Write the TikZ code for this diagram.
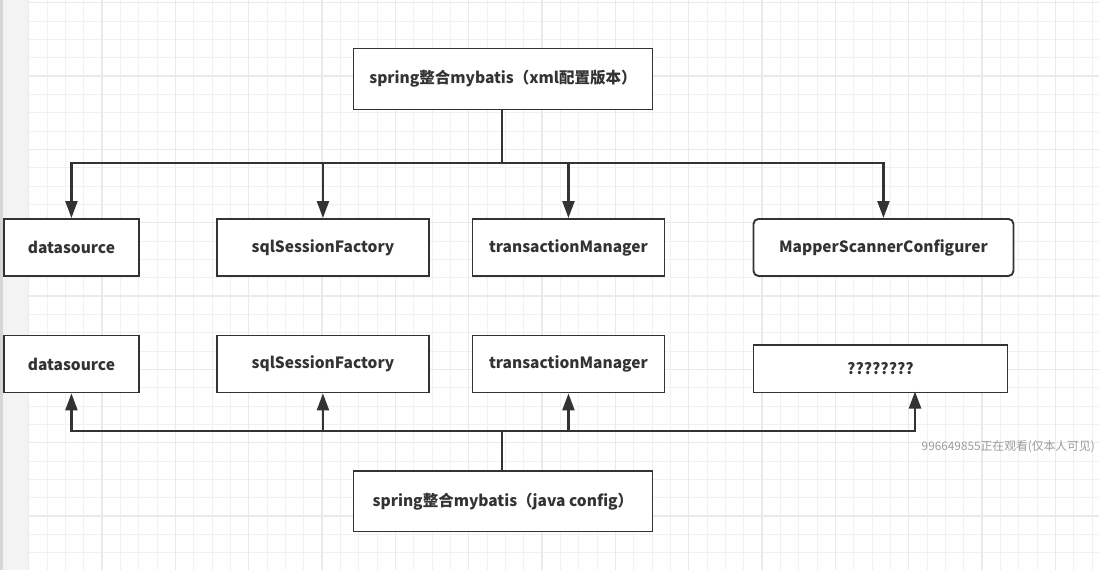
\documentclass[tikz,border=0pt]{standalone}
\usepackage{fontspec}
\setmainfont{Noto Sans CJK SC}
\usetikzlibrary{arrows.meta}
\definecolor{ink}{HTML}{333333}
\definecolor{gridminor}{HTML}{F1F1F1}
\definecolor{gridmajor}{HTML}{EAEAEA}
\definecolor{strip}{HTML}{F3F3F4}
\definecolor{stripedge}{HTML}{D6D6DA}
\definecolor{wmark}{HTML}{9C9C9C}
\tikzset{
  box/.style={draw=ink, line width=1.9pt, fill=white, text=ink, font=\bfseries\fontsize{15.5}{18}\selectfont, inner sep=0pt, anchor=north west},
  conn/.style={draw=ink, line width=2.3pt},
  arr/.style={conn, -{Triangle[width=12pt,length=17pt]}},
}
\begin{document}
\begin{tikzpicture}[x=1pt,y=-1pt]
\useasboundingbox (0,0) rectangle (1099,570);
\clip (0,0) rectangle (1099,570);
\fill[white] (0,0) rectangle (1099,570);
% left strip
\fill[strip] (0,0) rectangle (29,570);
\fill[stripedge] (0,0) rectangle (3,570);
% grid
\foreach \i in {0,...,58} {
  \draw[gridminor, line width=1pt] ({28.7+18.333*\i},0) -- ({28.7+18.333*\i},570);
}
\foreach \j in {0,...,31} {
  \draw[gridminor, line width=1pt] (29,{2.7+18.333*\j}) -- (1099,{2.7+18.333*\j});
}
\foreach \i in {0,...,14} {
  \draw[gridmajor, line width=1.1pt] ({28.7+73.333*\i},0) -- ({28.7+73.333*\i},570);
}
\foreach \j in {0,...,7} {
  \draw[gridmajor, line width=1.1pt] (29,{2.7+73.333*\j}) -- (1099,{2.7+73.333*\j});
}

% top box
\node[box, minimum width=299pt, minimum height=61pt] (top) at (352.5,47.5) {spring整合mybatis（xml配置版本）};
% row 1
\node[box, minimum width=135pt, minimum height=57pt] (ds1) at (3,218) {datasource};
\node[box, minimum width=212pt, minimum height=57pt] (sf1) at (216,218) {sqlSessionFactory};
\node[box, minimum width=192pt, minimum height=57pt] (tm1) at (471.5,218) {transactionManager};
\node[box, rounded corners=5pt, minimum width=260pt, minimum height=57pt] (msc) at (752.5,218) {MapperScannerConfigurer};
% row 2
\node[box, minimum width=135pt, minimum height=57pt] (ds2) at (3,334.5) {datasource};
\node[box, minimum width=212pt, minimum height=57pt] (sf2) at (216,334.5) {sqlSessionFactory};
\node[box, minimum width=192pt, minimum height=57pt] (tm2) at (471.5,334.5) {transactionManager};
\node[box, minimum width=254pt, minimum height=47.5pt] (q) at (752.5,344) {????????};
% bottom box
\node[box, minimum width=299pt, minimum height=60.5pt] (bot) at (352.5,470) {spring整合mybatis（java config）};

% junctions
\coordinate (j1) at (502,163);
\coordinate (j2) at (502,431);
\coordinate (qin) at (915,391.5);

\draw[conn] (top.south -| j1) -- (j1);
\draw[arr] (j1) -| (ds1.north);
\draw[arr] (j1) -| (sf1.north);
\draw[arr] (j1) -| (tm1.north);
\draw[arr] (j1) -| (msc.north);

\draw[conn] (bot.north -| j2) -- (j2);
\draw[arr] (j2) -| (ds2.south);
\draw[arr] (j2) -| (sf2.south);
\draw[arr] (j2) -| (tm2.south);
\draw[arr] (j2) -| (qin);

% watermark
\node[anchor=west, inner sep=0pt, text=wmark, font=\fontsize{11.8}{13}\selectfont] (wm) at (921.5,447) {996649855正在观看(仅本人可见)};
\end{tikzpicture}
\end{document}
